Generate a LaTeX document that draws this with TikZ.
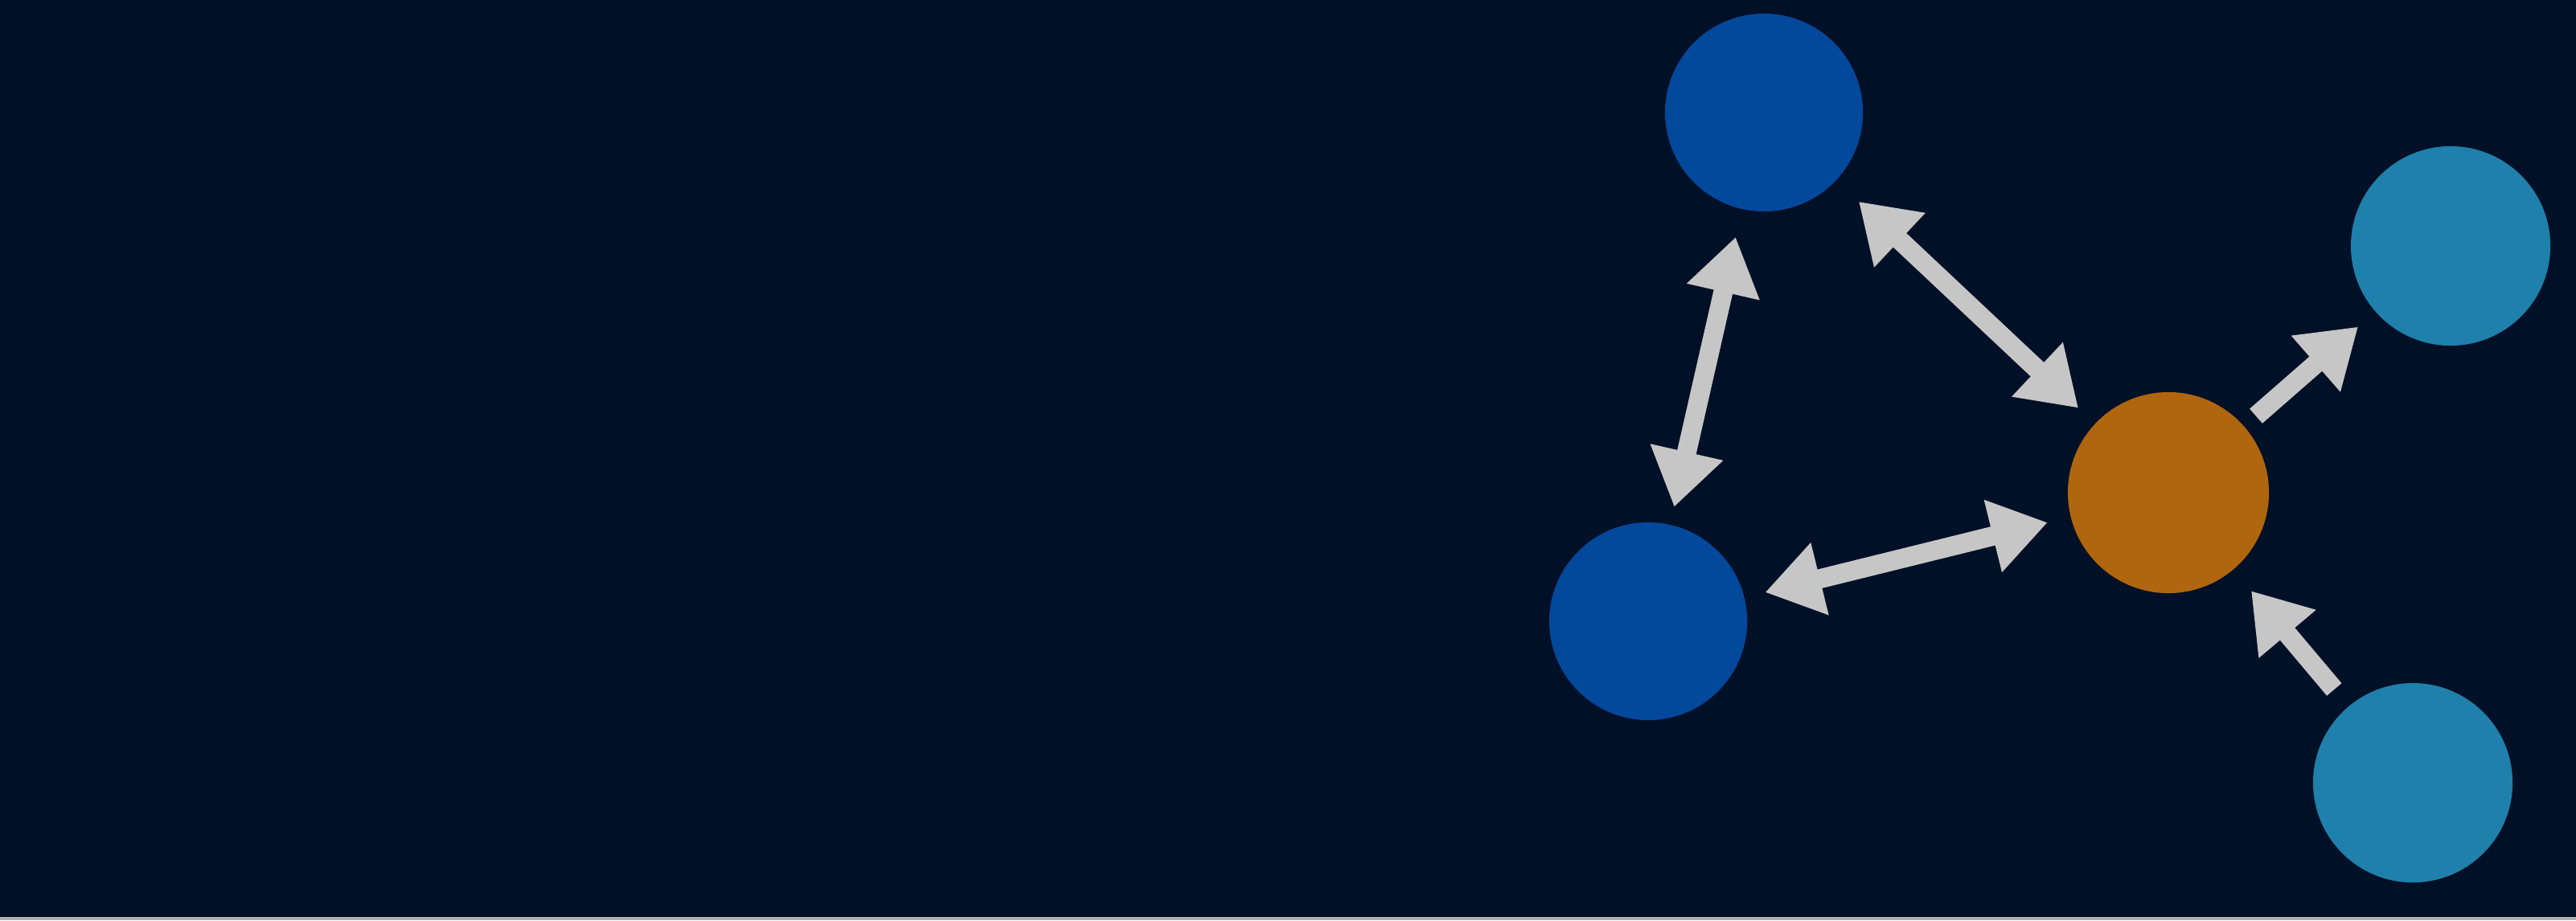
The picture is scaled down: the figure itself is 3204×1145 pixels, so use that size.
\documentclass[tikz,border=0pt]{standalone}
\usepackage{tikz}
\usetikzlibrary{arrows.meta,positioning}

\definecolor{bgnavy}{HTML}{001027}
\definecolor{peerblue}{HTML}{02489B}
\definecolor{leafteal}{HTML}{1E80AB}
\definecolor{huborange}{HTML}{B0650F}
\definecolor{arrowgray}{HTML}{C6C6C6}
\definecolor{stripgray}{HTML}{B0B0B0}

\begin{document}
\begin{tikzpicture}[x=0.01cm, y=-0.01cm, >={Triangle[width=0.88cm,length=0.70cm]}]
\tikzstyle{peer}=[circle,fill=peerblue,minimum size=2.46cm,inner sep=0pt]
\tikzstyle{leaf}=[circle,fill=leafteal,minimum size=2.48cm,inner sep=0pt]
\tikzstyle{hub}=[circle,fill=huborange,minimum size=2.50cm,inner sep=0pt]
\tikzstyle{link}=[draw=arrowgray,line width=0.24cm]

% background
\fill[bgnavy] (0,0) rectangle (3204,1145);
\fill[stripgray] (0,1141) rectangle (3204,1145);

\node[hub]     (h)  at (2697,613)  {};
\node[peer]    (p1) at (2194,140)  {};
\node[peer]    (p2) at (2050,773)  {};
\node[leaf]    (l1) at (3048,306)  {};
\node[leaf]    (l2) at (3001,974)  {};

\draw[link,<->,shorten <=0.35cm,shorten >=0.22cm] (p1) -- (p2);
\draw[link,<->,shorten <=0.38cm,shorten >=0.28cm] (p1) -- (h);
\draw[link,<->,shorten <=0.26cm,shorten >=0.29cm] (p2) -- (h);
\draw[link,->,shorten <=0.19cm,shorten >=0.28cm]  (h)  -- (l1);
\draw[link,->,shorten <=0.27cm,shorten >=0.34cm]  (l2) -- (h);

\end{tikzpicture}
\end{document}
